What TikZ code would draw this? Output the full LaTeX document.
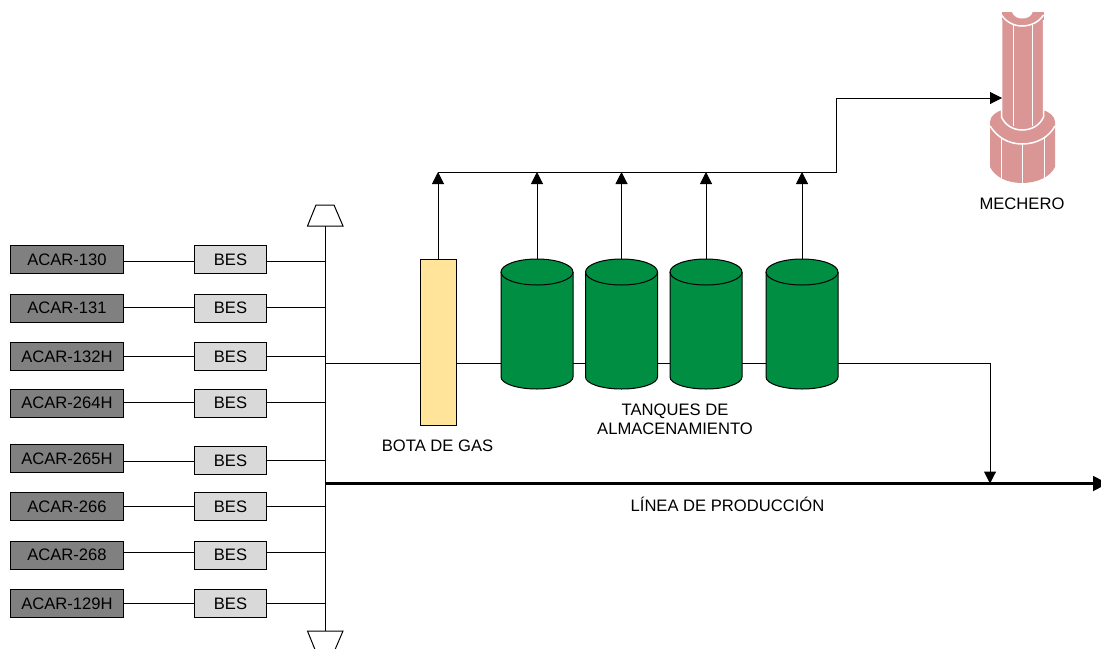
\documentclass[tikz,border=0pt]{standalone}
\usepackage{fontspec}
\setmainfont{Liberation Sans}
\usetikzlibrary{arrows.meta}
\definecolor{wellgray}{RGB}{128,128,128}
\definecolor{besgray}{RGB}{217,217,217}
\definecolor{botayellow}{RGB}{255,228,153}
\definecolor{tankgreen}{RGB}{0,143,66}
\definecolor{flarepink}{RGB}{217,150,148}
\tikzset{
  x=0.5pt,y=-0.5pt,
  every node/.style={font=\fontsize{8.3pt}{10pt}\selectfont,inner sep=0pt,outer sep=0pt},
  pipe/.style={draw=black,line width=0.5pt},
  flow/.style={pipe,-{Triangle[length=6pt,width=6pt]}},
  wellbox/.style={draw=black,line width=0.5pt,fill=wellgray,minimum width=56.5pt,minimum height=14pt},
  besbox/.style={draw=black,line width=0.5pt,fill=besgray,minimum width=36pt,minimum height=14pt},
  botabox/.style={draw=black,line width=0.5pt,fill=botayellow,minimum width=18pt,minimum height=83pt},
  tankbody/.style={minimum width=36pt,minimum height=65pt},
  capshape/.style={draw=black,line width=0.5pt,fill=white,line join=miter},
  flareline/.style={draw=white,line width=0.75pt},
}
\begin{document}
\begin{tikzpicture}
\useasboundingbox (0,0) rectangle (1101,648);
% tanks (shapes, then named bodies)
\foreach \cx in {537,621.5,706,802}{
  \fill[tankgreen] (\cx-36,272) -- (\cx-36,377) arc[start angle=180,end angle=360,x radius=18pt,y radius=6pt] -- (\cx+36,272) arc[start angle=0,end angle=180,x radius=18pt,y radius=6.5pt] -- cycle;
  \draw[line width=0.5pt] (\cx-36,272) -- (\cx-36,377) arc[start angle=180,end angle=360,x radius=18pt,y radius=6pt] -- (\cx+36,272);
  \draw[line width=0.5pt] (\cx,272) ellipse[x radius=18pt,y radius=6.5pt];
}
\node[tankbody] (t1) at (537,324) {};
\node[tankbody] (t2) at (621.5,324) {};
\node[tankbody] (t3) at (706,324) {};
\node[tankbody] (t4) at (802,324) {};
\node[botabox] (bota) at (438,342) {};
% bus ends
\draw[capshape] (316,205) -- (334,205) -- (343,226) -- (307.5,226) -- cycle;
\draw[capshape] (307.5,631) -- (343,631) -- (334,652) -- (316,652) -- cycle;
\coordinate (bustop) at (325,226);
\coordinate (busbot) at (325,631);
\draw[pipe] (bustop) -- (busbot);
% wells: number/label/well y/BES y/left line y/right line y
\foreach \n/\lab/\ya/\yb/\la/\lb in {1/ACAR-130/259.7/259.7/261.7/261.7,2/ACAR-131/308/308/307.7/307.7,3/ACAR-132H/356.5/356.5/356.7/356.7,4/ACAR-264H/403/403/402.7/402.7,5/ACAR-265H/458.3/460.7/461/460,6/ACAR-266/506.7/506.7/506.7/506.7,7/ACAR-268/555/555/552.7/552.7,8/ACAR-129H/603.5/603.5/603.5/603.5}{
  \node[wellbox] (w\n) at (67,\ya) {\lab};
  \node[besbox] (b\n) at (230.5,\yb) {BES};
  \coordinate (ll\n) at (0,\la);
  \coordinate (lr\n) at (0,\lb);
  \coordinate (j\n) at (325,\lb);
  \draw[pipe] (w\n.east |- ll\n) -- (b\n.west |- ll\n);
  \draw[pipe] (b\n.east |- lr\n) -- (j\n);
}
% process line
\coordinate (m0) at (325,363);
\coordinate (mb) at (990,363);
\coordinate (p0) at (325,483.5);
\coordinate (pend) at (1108,483.5);
\coordinate (pj) at (990,483.5);
\draw[pipe] (m0) -- (bota.west |- m0);
\draw[pipe] (bota.east |- m0) -- (t1.west |- m0);
\draw[pipe] (t1.east |- m0) -- (t2.west |- m0);
\draw[pipe] (t2.east |- m0) -- (t3.west |- m0);
\draw[pipe] (t3.east |- m0) -- (t4.west |- m0);
\draw[pipe] (t4.east |- m0) -- (mb);
\draw[flow] (mb) -- (pj);
\draw[line width=1.5pt,-{Triangle[length=7.5pt,width=7.3pt]}] (p0) -- (pend);
% gas line
\coordinate (g0) at (438,172);
\coordinate (g1) at (836,172);
\coordinate (g2) at (836,98);
\coordinate (flarein) at (1002,98);
\draw[pipe] (g0) -- (g1) -- (g2);
\draw[flow] (bota.north) -- (g0);
\draw[flow] (t1.north) -- (t1.north |- g0);
\draw[flow] (t2.north) -- (t2.north |- g0);
\draw[flow] (t3.north) -- (t3.north |- g0);
\draw[flow] (t4.north) -- (t4.north |- g0);
% flare
\fill[flarepink] (990,122) .. controls (990,116) and (996,112) .. (1002,110) -- (1043,110) .. controls (1049,112) and (1055,116) .. (1055,122) -- (1055,167) .. controls (1050,177) and (1037,183) .. (1022,183) .. controls (1007,183) and (995,177) .. (990,167) -- cycle;
\draw[flareline] (990,126) .. controls (997,137) and (1008,144) .. (1022,144) .. controls (1037,144) and (1049,137) .. (1055,126);
\foreach \vx/\vt/\vb in {1001.7/139/178,1022.7/144/183,1044.3/138/178}{
  \draw[flareline] (\vx,\vt) -- (\vx,\vb);
}
\fill[flarepink,draw=white,line width=0.75pt] (1001.5,18) -- (1001.5,117) .. controls (1005,125) and (1013,130) .. (1022,130) .. controls (1032,130) and (1040,125) .. (1043.5,117) -- (1043.5,18) -- cycle;
\fill[flarepink] (1001.5,12) -- (1043.5,12) -- (1043.5,20) -- (1001.5,20) -- cycle;
\fill[white] (1011.5,11.5) .. controls (1014,17) and (1018,18.5) .. (1022,18.5) .. controls (1027,18.5) and (1031,17) .. (1033,11.5) -- cycle;
\draw[flareline] (1001.5,15) .. controls (1006,22) and (1014,26) .. (1022,26) .. controls (1031,26) and (1039,22) .. (1043.5,15);
\draw[flareline] (1013.3,25) -- (1013.3,126);
\draw[flareline] (1032.7,25) -- (1032.7,126);
\draw[flow] (g2) -- (flarein);
% labels
\node (lmech) at (1022,203.5) {MECHERO};
\node (lbota) at (437.5,446) {BOTA DE GAS};
\node (ltan1) at (675,411) {TANQUES DE};
\node (ltan2) at (675,429) {ALMACENAMIENTO};
\node (lprod) at (727.5,504) {LÍNEA DE PRODUCCIÓN};
\end{tikzpicture}
\end{document}
